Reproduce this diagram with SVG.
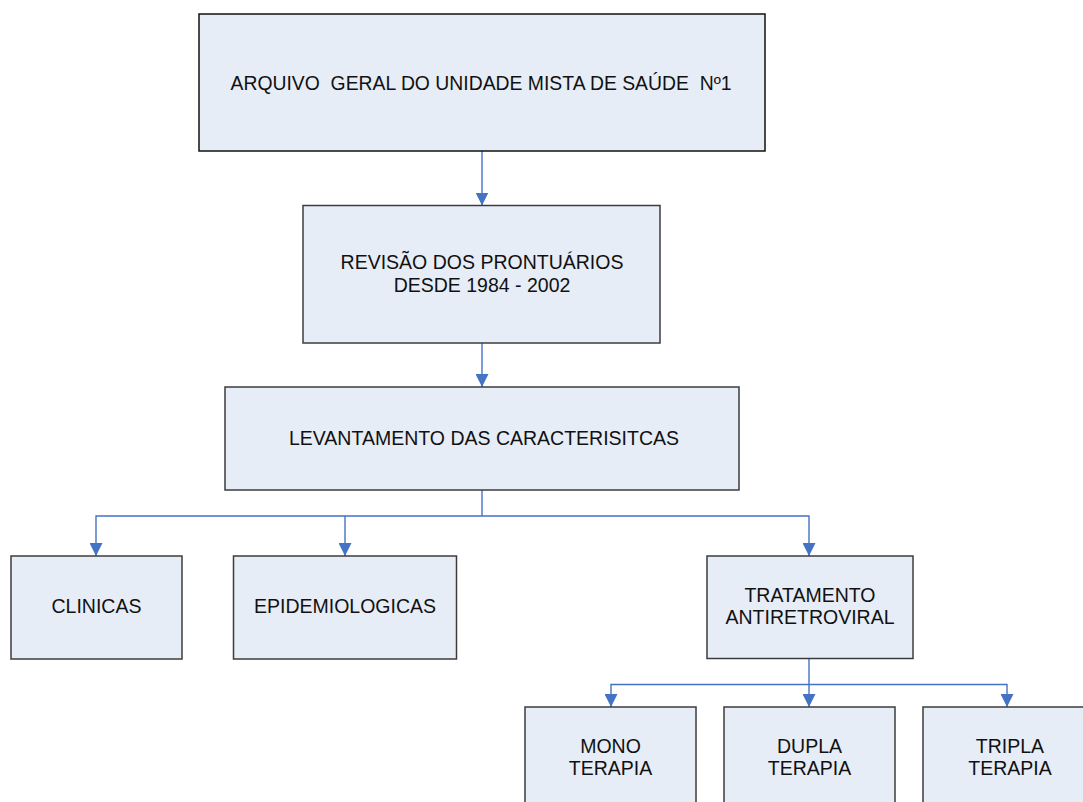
<svg xmlns="http://www.w3.org/2000/svg" width="1083" height="802" viewBox="0 0 1083 802">
<style>
  .box { fill: #E7EDF7; stroke: #3c3c3c; stroke-width: 1.5; }
  .top { stroke: #111111; }
  .lbl { font-family: "Liberation Sans", Arial, sans-serif; font-size: 19.5px; fill: #111111; text-anchor: middle; }
  .conn { fill: none; stroke: #4472C4; stroke-width: 1.4; }
</style>
<defs>
  <marker id="arr" markerUnits="userSpaceOnUse" markerWidth="13" markerHeight="13" refX="13" refY="6.5" orient="auto" viewBox="0 0 13 13">
    <path d="M0,0 L13,6.5 L0,13 z" fill="#4472C4"/>
  </marker>
</defs>
<rect width="1083" height="802" fill="#ffffff"/>

<g id="connectors">
  <path class="conn" d="M482,151 V205.5" marker-end="url(#arr)"/>
  <path class="conn" d="M482,343 V387" marker-end="url(#arr)"/>
  <path class="conn" d="M482,490 V516"/>
  <path class="conn" d="M482,516 H96 V556" marker-end="url(#arr)"/>
  <path class="conn" d="M345,516 V556" marker-end="url(#arr)"/>
  <path class="conn" d="M482,516 H809 V556" marker-end="url(#arr)"/>
  <path class="conn" d="M809,658.5 V684.5"/>
  <path class="conn" d="M809,684.5 H611 V707" marker-end="url(#arr)"/>
  <path class="conn" d="M809,684.5 V707" marker-end="url(#arr)"/>
  <path class="conn" d="M809,684.5 H1007 V707" marker-end="url(#arr)"/>
</g>

<g id="arquivo">
  <rect class="box top" x="199" y="14" width="566" height="137"/>
  <text class="lbl" x="481" y="90" xml:space="preserve" textLength="501" lengthAdjust="spacingAndGlyphs">ARQUIVO  GERAL DO UNIDADE MISTA DE SAÚDE  Nº1</text>
</g>

<g id="revisao">
  <rect class="box" x="303" y="205.5" width="357" height="137.5"/>
  <text class="lbl" x="482" y="269">REVISÃO DOS PRONTUÁRIOS</text>
  <text class="lbl" x="482" y="291.5">DESDE 1984 - 2002</text>
</g>

<g id="levantamento">
  <rect class="box" x="225" y="387" width="514" height="103"/>
  <text class="lbl" x="484" y="445">LEVANTAMENTO DAS CARACTERISITCAS</text>
</g>

<g id="clinicas">
  <rect class="box" x="11" y="556" width="171" height="103"/>
  <text class="lbl" x="96.5" y="613">CLINICAS</text>
</g>

<g id="epidemiologicas">
  <rect class="box" x="233.5" y="556" width="223" height="103"/>
  <text class="lbl" x="345" y="613">EPIDEMIOLOGICAS</text>
</g>

<g id="tratamento">
  <rect class="box" x="707" y="556" width="206" height="102.5"/>
  <text class="lbl" x="810" y="602">TRATAMENTO</text>
  <text class="lbl" x="810" y="624">ANTIRETROVIRAL</text>
</g>

<g id="mono">
  <rect class="box" x="525" y="707" width="171" height="103"/>
  <text class="lbl" x="610.5" y="753">MONO</text>
  <text class="lbl" x="610.5" y="775">TERAPIA</text>
</g>

<g id="dupla">
  <rect class="box" x="724" y="707" width="171" height="103"/>
  <text class="lbl" x="809.5" y="753">DUPLA</text>
  <text class="lbl" x="809.5" y="775">TERAPIA</text>
</g>

<g id="tripla">
  <rect class="box" x="923" y="707" width="171" height="103"/>
  <text class="lbl" x="1010" y="753">TRIPLA</text>
  <text class="lbl" x="1010" y="775">TERAPIA</text>
</g>
</svg>
